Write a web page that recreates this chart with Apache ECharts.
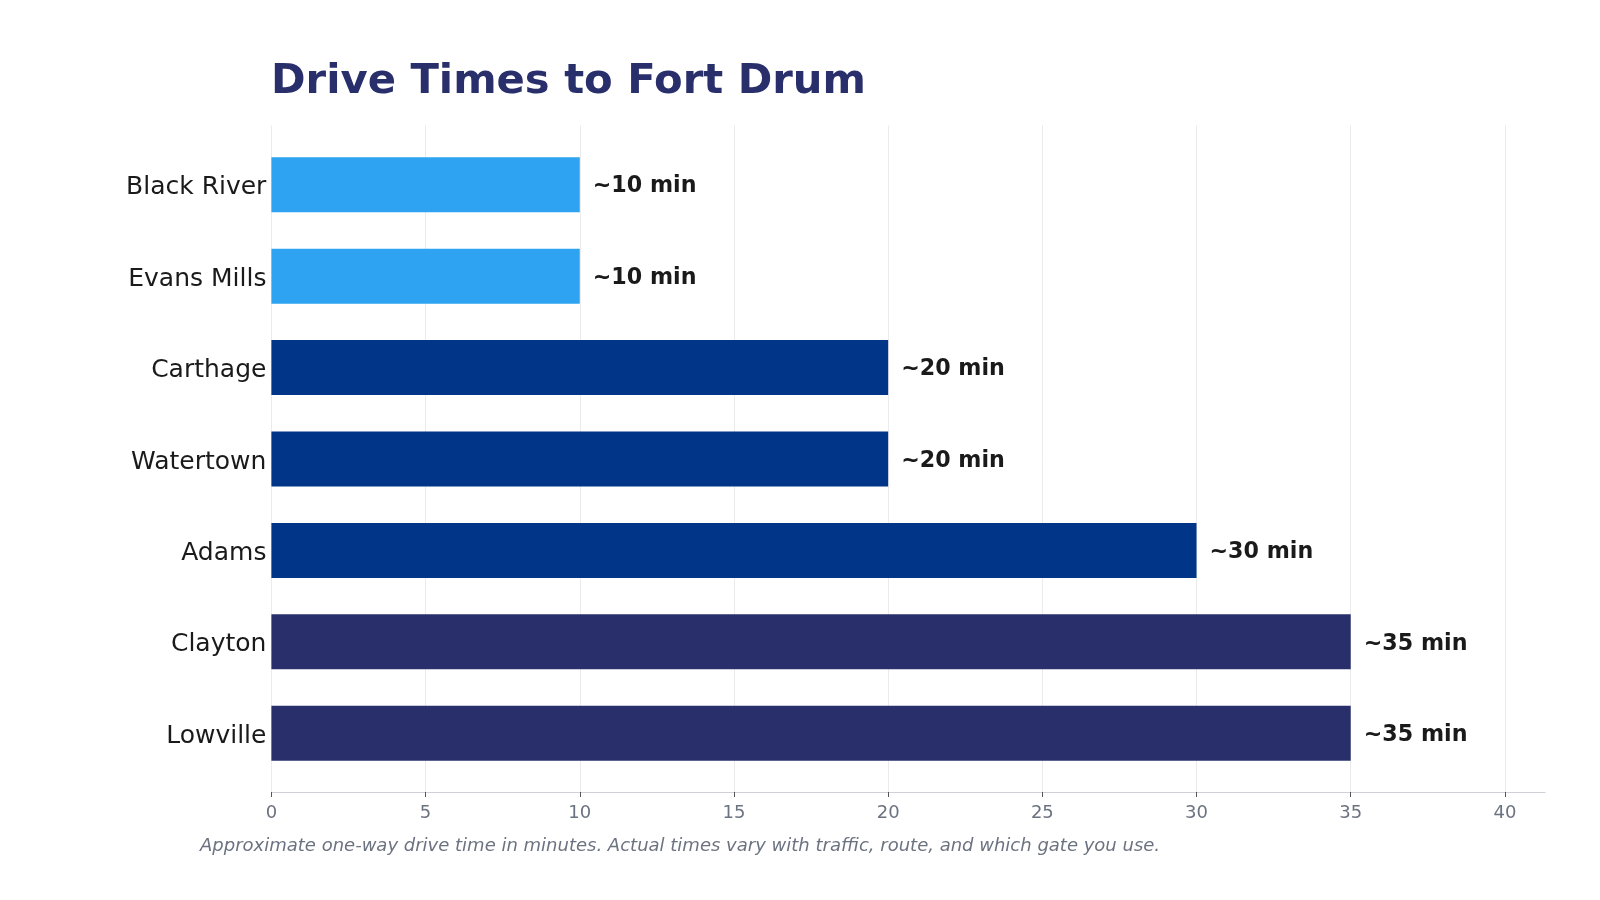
<!DOCTYPE html>
<html>
<head>
<meta charset="utf-8">
<title>Drive Times to Fort Drum</title>
<script src="https://cdn.jsdelivr.net/npm/echarts@6/dist/echarts.min.js"></script>
<style>
  html, body { margin: 0; padding: 0; background: #ffffff; }
  #chart { width: 1600px; height: 900px; }
</style>
</head>
<body>
<div id="chart"></div>
<script>
// towns, top to bottom
var towns = ['Black River', 'Evans Mills', 'Carthage', 'Watertown', 'Adams', 'Clayton', 'Lowville'];
// approximate drive time in minutes
var minutes = [10, 10, 20, 20, 30, 35, 35];
var barColors = ['#2ea3f2', '#2ea3f2', '#003587', '#003587', '#003587', '#292f6b', '#292f6b'];
var xTicks = [0, 5, 10, 15, 20, 25, 30, 35, 40];

var font = 'DejaVu Sans';

//柱子数据
var barData = [];
for (var i = 0; i < minutes.length; i++) {
    barData.push({
        value: minutes[i],
        itemStyle: { color: barColors[i] }
    });
}

var xMax = 41.3;

var chart = echarts.init(document.getElementById('chart'));
chart.setOption({
    animation: false,
    backgroundColor: '#ffffff',
    title: {
        text: 'Drive Times to Fort Drum',
        left: 266,
        top: 56,
        textStyle: {
            fontFamily: font,
            fontSize: 41.7,
            fontWeight: 'bold',
            color: '#292f6b'
        }
    },
    graphic: [{
        type: 'text',
        left: 200,
        top: 837,
        style: {
            text: 'Approximate one-way drive time in minutes. Actual times vary with traffic, route, and which gate you use.',
            fontFamily: font,
            fontSize: 18,
            fontStyle: 'italic',
            fill: '#6b7280'
        }
    }],
    grid: [
        // 网格线和x轴
        { left: 271.4, right: 55, top: 125.5, bottom: 108 },
        // 柱子
        { left: 271.4, right: 55, top: 139, bottom: 121 }
    ],
    xAxis: [{
        gridIndex: 0,
        type: 'value',
        min: 0,
        max: xMax,
        interval: 5,
        axisLine: { show: true, lineStyle: { color: '#cfd1d6', width: 1.2 } },
        axisTick: { show: true, length: 5, lineStyle: { color: '#555555' } },
        axisLabel: {
            margin: 12,
            fontFamily: font,
            fontSize: 18,
            color: '#6b7280',
            showMaxLabel: false,
            formatter: function (v) {
                return xTicks.indexOf(v) >= 0 ? String(v) : '';
            }
        },
        splitLine: { show: true, showMaxLine: false, lineStyle: { color: '#ebebeb', width: 1 } }
    }, {
        gridIndex: 1,
        type: 'value',
        min: 0,
        max: xMax,
        show: false
    }],
    yAxis: [{
        gridIndex: 0,
        type: 'category',
        data: towns,
        show: false
    }, {
        gridIndex: 1,
        type: 'category',
        data: towns,
        inverse: true,
        axisLine: { show: false },
        axisTick: { show: false },
        splitLine: { show: false },
        axisLabel: {
            margin: 5,
            formatter: function (v) {
                return '{t|' + v + '}';
            },
            rich: {
                t: {
                    fontFamily: font,
                    fontSize: 25,
                    color: '#1a1a1a',
                    padding: [6, 0, 0, 0]
                }
            }
        }
    }],
    series: [{
        type: 'bar',
        xAxisIndex: 1,
        yAxisIndex: 1,
        data: barData,
        barWidth: 55,
        label: {
            show: true,
            position: 'right',
            distance: 13,
            offset: [0, 2],
            fontFamily: font,
            fontSize: 22.2,
            fontWeight: 'bold',
            color: '#1a1a1a',
            formatter: function (p) {
                return '~' + p.value + ' min';
            }
        }
    }]
});
</script>
</body>
</html>
